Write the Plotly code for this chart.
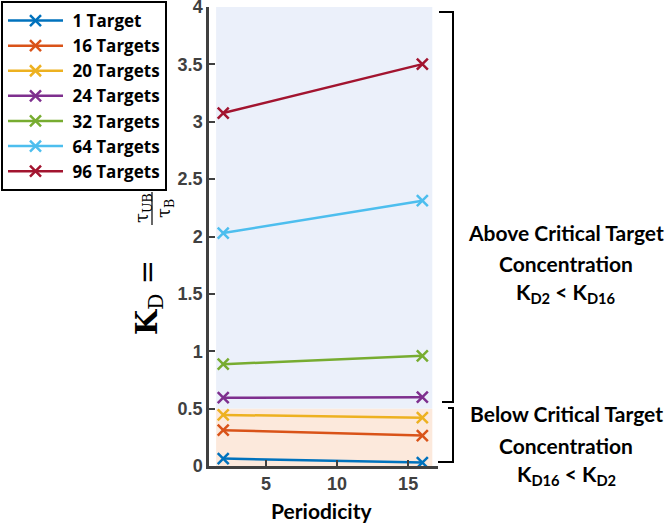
import plotly.graph_objects as go

periodicity = [2, 16]
series_names = ["1 Target", "16 Targets", "20 Targets", "24 Targets", "32 Targets", "64 Targets", "96 Targets"]
kd_1 = [0.065, 0.030]
kd_16 = [0.312, 0.265]
kd_20 = [0.445, 0.421]
kd_24 = [0.595, 0.600]
kd_32 = [0.887, 0.960]
kd_64 = [2.030, 2.312]
kd_96 = [3.076, 3.502]
series_values = [kd_1, kd_16, kd_20, kd_24, kd_32, kd_64, kd_96]
colors = ["#0072BD", "#D95319", "#EDB120", "#7E2F8E", "#77AC30", "#4DBEEE", "#A2142F"]
y_ticks = [0, 0.5, 1, 1.5, 2, 2.5, 3, 3.5, 4]
x_ticks = [5, 10, 15]

W, H = 666, 523
L, R, T, B = 209, 438, 7, 466
PW, PH = R - L, B - T


def px(x):
    return (x - L) / PW


def py(y):
    return (B - y) / PH


fig = go.Figure()
for name, vals, c in zip(series_names, series_values, colors):
    fig.add_trace(go.Scatter(
        x=periodicity, y=vals, mode="lines+markers", name="<b> " + name + "</b>",
        line=dict(color=c, width=2.5),
        marker=dict(symbol="x-thin", size=11, line=dict(color=c, width=2.5)),
    ))

# shaded regions
fig.add_shape(type="rect", xref="x", yref="y", x0=1.5, x1=16.7, y0=0.5, y1=4,
              fillcolor="#EBF0FA", line=dict(width=0), layer="below")
fig.add_shape(type="rect", xref="x", yref="y", x0=1.5, x1=16.7, y0=0, y1=0.5,
              fillcolor="#FCE9DC", line=dict(width=0), layer="below")

# brackets
def bracket(x_in0, x_in1, x_v, y0, y1):
    p = (f"M {px(x_in0)},{py(y0)} L {px(x_v)},{py(y0)} L {px(x_v)},{py(y1)} "
         f"L {px(x_in1)},{py(y1)}")
    fig.add_shape(type="path", xref="paper", yref="paper", path=p,
                  line=dict(color="black", width=2))

bracket(439, 442, 453, 12, 402)
bracket(448, 438, 453, 408, 462)

txt_font = dict(family="Lato", size=21, color="black")
for text, y in [("<b>Above Critical Target</b>", 232), ("<b>Concentration</b>", 263),
                ("<b>K<sub>D2</sub> &lt; K<sub>D16</sub></b>", 293),
                ("<b>Below Critical Target</b>", 413), ("<b>Concentration</b>", 445),
                ("<b>K<sub>D16</sub> &lt; K<sub>D2</sub></b>", 475)]:
    fig.add_annotation(text=text, xref="paper", yref="paper", x=px(566), y=py(y),
                       showarrow=False, font=txt_font, xanchor="center", yanchor="middle")

# y-axis title pieces
serif = "DejaVu Serif"
fig.add_annotation(text="<b>K</b><sub>D</sub> =", xref="paper", yref="paper",
                   x=px(149), y=py(298), showarrow=False, textangle=-90,
                   font=dict(family=serif, size=29, color="black"),
                   xanchor="center", yanchor="middle")
fig.add_annotation(text="τ<sub>UB</sub>", xref="paper", yref="paper",
                   x=px(143), y=py(208), showarrow=False, textangle=-90,
                   font=dict(family=serif, size=18, color="black"),
                   xanchor="center", yanchor="middle")
fig.add_annotation(text="τ<sub>B</sub>", xref="paper", yref="paper",
                   x=px(165), y=py(209), showarrow=False, textangle=-90,
                   font=dict(family=serif, size=18, color="black"),
                   xanchor="center", yanchor="middle")
fig.add_shape(type="line", xref="paper", yref="paper", x0=px(152), x1=px(152),
              y0=py(192), y1=py(225), line=dict(color="black", width=1.2))

fig.add_annotation(text="<b>Periodicity</b>", xref="paper", yref="paper",
                   x=px(321), y=py(510), showarrow=False,
                   font=dict(family="Lato", size=21, color="black"),
                   xanchor="center", yanchor="middle")

axis_color = "#404040"
tick_font = dict(family="Liberation Sans", size=18, color=axis_color, weight="bold")
common = dict(ticks="inside", ticklen=6, tickwidth=2, tickcolor=axis_color,
              showline=True, linewidth=2.5, linecolor=axis_color, showgrid=False,
              zeroline=False, tickfont=tick_font, automargin=False,
              ticklabeloverflow="allow")
fig.update_xaxes(range=[1, 17.1], tickvals=x_ticks, **common)
fig.update_yaxes(range=[0, 4], tickvals=y_ticks, **common)

fig.update_layout(
    width=W, height=H, autosize=False,
    margin=dict(l=L, r=W - R, t=T, b=H - B, autoexpand=False),
    plot_bgcolor="white", paper_bgcolor="white",
    showlegend=True,
    legend=dict(xref="container", yref="container", x=1 / W, y=1 - 1 / H,
                xanchor="left", yanchor="top",
                bordercolor="black", borderwidth=2, bgcolor="white",
                font=dict(family="Open Sans", size=17, color="black"),
                itemwidth=55, tracegroupgap=0),
)

fig.write_html("out.html", config={"displayModeBar": False},
               post_script="document.body.style.margin='0';document.body.style.overflow='hidden';")
